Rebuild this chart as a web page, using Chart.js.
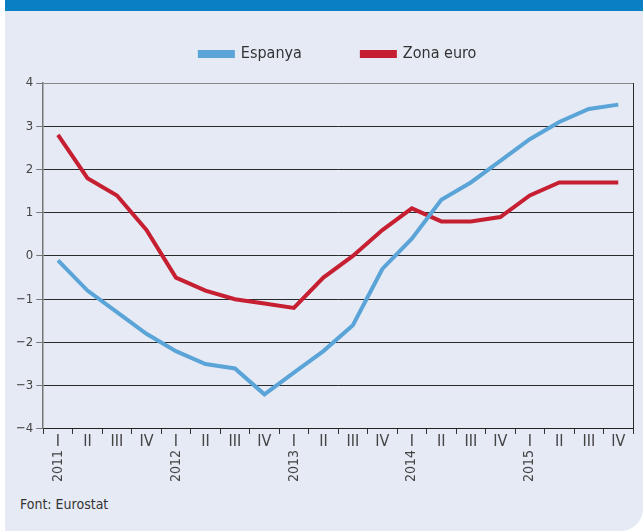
<!DOCTYPE html>
<html>
<head>
<meta charset="utf-8">
<script src="https://cdn.jsdelivr.net/npm/chart.js@4/dist/chart.umd.min.js"></script>
<style>
html,body{margin:0;padding:0;background:#fff;}
#panel{position:absolute;left:5px;top:0;width:638px;height:531px;background:#e6eaf5;border-bottom-right-radius:22px;overflow:hidden;}
#cap{position:absolute;left:0;top:0;width:638px;height:11px;background:#0a7fc4;}
#wrap{position:absolute;left:-5px;top:-14px;width:643px;height:501px;}
#font{position:absolute;left:15px;top:496px;font-family:'Liberation Sans Narrow','DejaVu Sans Condensed',sans-serif;font-size:14px;color:#333;}
</style>
</head>
<body>
<div id="panel">
<div id="wrap"><canvas id="myChart"></canvas></div>
<div id="cap"></div>
<div id="font">Font: Eurostat</div>
</div>
<script>
var trimestres=['I','II','III','IV','I','II','III','IV','I','II','III','IV','I','II','III','IV','I','II','III','IV'];
var anys=['2011','','','','2012','','','','2013','','','','2014','','','','2015','','',''];
var espanya=[-0.1,-0.8,-1.3,-1.8,-2.2,-2.5,-2.6,-3.2,-2.7,-2.2,-1.6,-0.3,0.4,1.3,1.7,2.2,2.7,3.1,3.4,3.5];
var zonaEuro=[2.8,1.8,1.4,0.6,-0.5,-0.8,-1.0,-1.1,-1.2,-0.5,0.0,0.6,1.1,0.8,0.8,0.9,1.4,1.7,1.7,1.7];

var lletra="'Liberation Sans Narrow','DejaVu Sans Condensed',sans-serif";
Chart.defaults.font.family=lletra;
Chart.defaults.color='#333';

var ctx=document.getElementById("myChart").getContext("2d");
var grafic=new Chart(ctx,{
	type:"line",
	data:{
		labels:trimestres,
		datasets:[{
			label:"Espanya",
			data:espanya,
			borderColor:'#5aa4d8',
			backgroundColor:'#5aa4d8',
			borderWidth:4,
			pointRadius:0
		},{
			label:"Zona euro",
			data:zonaEuro,
			borderColor:'#c61f32',
			backgroundColor:'#c61f32',
			borderWidth:4,
			pointRadius:0
		}]
	},
	options:{
		responsive:true,
		maintainAspectRatio:false,
		animation:false,
		layout:{padding:{left:13,right:2,top:0,bottom:5}},
		plugins:{
			legend:{
				display:true,
				position:'top',
				fullSize:false,
				labels:{
					boxWidth:33,
					boxHeight:4,
					padding:60,
					font:{size:16},
					color:'#333'
				}
			},
			// espai buit entre llegenda i grafic
			subtitle:{
				display:true,
				text:'',
				fullSize:false,
				weight:500,
				font:{size:1,lineHeight:1},
				padding:{top:10,bottom:0}
			},
			tooltip:{enabled:false}
		},
		scales:{
			x:{
				offset:true,
				grid:{offset:true,drawOnChartArea:false,drawTicks:true,tickLength:5,tickColor:'#333'},
				border:{color:'#222',width:1},
				ticks:{autoSkip:false,maxRotation:0,minRotation:0,padding:0,font:{size:16,lineHeight:1},color:'#444'}
			},
			x2:{
				type:'category',
				labels:anys,
				position:'bottom',
				offset:true,
				grid:{display:false,drawTicks:false,tickLength:0},
				border:{display:false},
				ticks:{autoSkip:false,maxRotation:90,minRotation:90,padding:0,font:{size:14},color:'#444'}
			},
			y:{
				min:-4,
				max:4,
				ticks:{stepSize:1,padding:3,font:{size:13},color:'#444',
					callback:function(v){return v<0?'\u2212'+Math.abs(v):v;}},
				grid:{
					color:function(c){return c.tick && c.tick.value==4?'#888':'#2a2a2a';},
					lineWidth:1,
					tickLength:7,
					tickColor:'#777'
				},
				border:{color:'#777',width:1.5}
			},
			yd:{
				position:'right',
				min:-4,
				max:4,
				ticks:{display:false},
				grid:{display:false},
				border:{color:'#2a2a2a',width:1}
			}
		}
	}
});
</script>
</body>
</html>
